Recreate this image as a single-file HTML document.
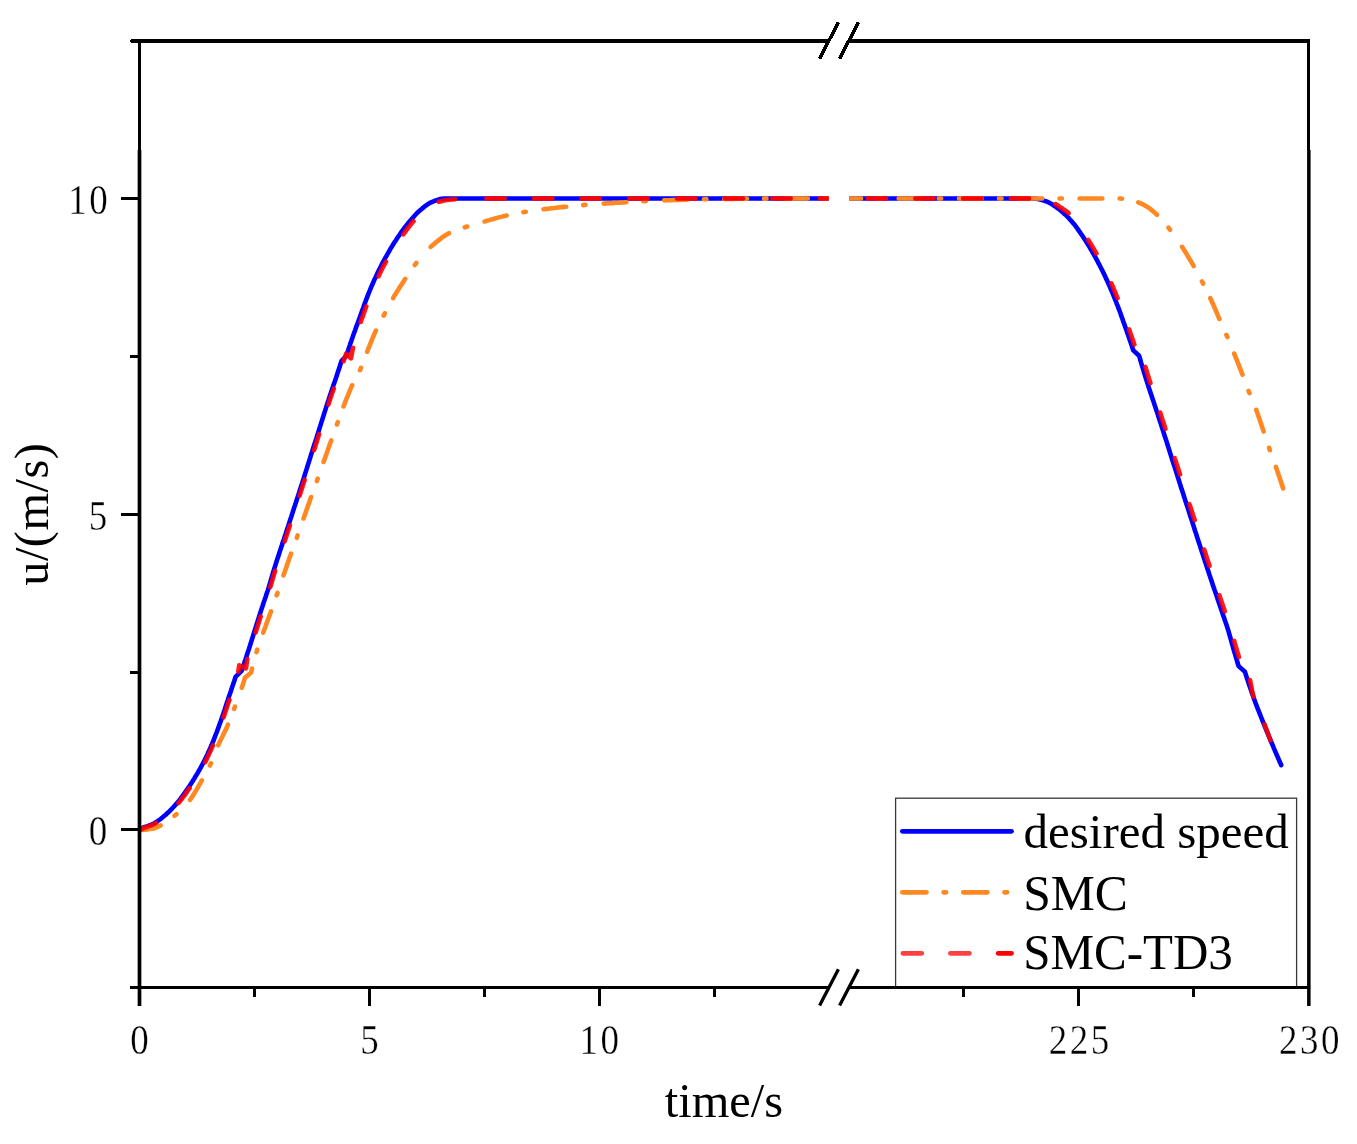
<!DOCTYPE html>
<html lang="en"><head><meta charset="utf-8"><title>Speed tracking</title>
<style>html,body{margin:0;padding:0;background:#fff}svg{display:block}</style></head>
<body>
<svg width="1357" height="1144" viewBox="0 0 1357 1144">
<defs>
<clipPath id="clipL"><rect x="139" y="30" width="689.7" height="970"/></clipPath>
<clipPath id="clipR"><rect x="849.3" y="30" width="470" height="970"/></clipPath>
<clipPath id="clipLR"><path d="M139,30H828.7V1000H139Z M849.3,30H1320V1000H849.3Z"/></clipPath>
</defs>
<rect width="1357" height="1144" fill="#fff"/>
<g fill="none" stroke-linecap="round" stroke-linejoin="round" stroke-width="4.6" clip-path="url(#clipLR)">
<path d="M139.5,829.5 L141.2,828.5 L143.0,827.7 L144.9,827.0 L146.8,826.4 L148.8,825.7 L150.6,825.0 L152.4,824.2 L154.2,823.3 L155.9,822.3 L157.6,821.2 L159.2,820.0 L160.8,818.8 L162.4,817.5 L163.9,816.2 L165.5,815.0 L166.9,813.6 L168.4,812.3 L169.8,810.9 L171.3,809.4 L172.6,808.0 L174.0,806.5 L175.3,805.0 L176.6,803.5 L177.9,802.0 L179.2,800.4 L180.4,798.8 L181.6,797.2 L182.8,795.6 L184.0,794.0 L185.1,792.4 L186.3,790.7 L187.4,789.1 L188.6,787.4 L189.7,785.8 L190.8,784.1 L191.8,782.4 L192.9,780.7 L194.0,779.0 L195.0,777.3 L196.1,775.6 L197.1,773.9 L198.1,772.2 L199.1,770.4 L200.1,768.7 L201.1,766.9 L202.0,765.2 L203.0,763.4 L203.9,761.6 L204.8,759.9 L205.7,758.1 L206.5,756.3 L207.4,754.4 L208.2,752.6 L209.1,750.8 L209.9,749.0 L210.7,747.1 L211.5,745.3 L212.2,743.5 L213.0,741.6 L213.8,739.8 L214.5,737.9 L215.2,736.0 L215.9,734.2 L216.7,732.3 L217.4,730.4 L218.1,728.6 L218.7,726.7 L219.4,724.8 L220.1,722.9 L220.8,721.0 L221.4,719.2 L222.1,717.3 L222.8,715.4 L223.4,713.5 L224.0,711.6 L224.7,709.7 L225.3,707.8 L225.9,705.9 L226.5,704.0 L227.1,702.1 L227.8,700.2 L228.4,698.3 L229.0,696.4 L229.7,694.5 L230.3,692.6 L231.0,690.7 L231.6,688.8 L232.2,686.9 L232.9,685.0 L233.5,683.1 L234.2,681.2 L234.8,679.3 L235.4,677.4 L235.7,676.7 L241.7,670.9 L242.3,669.0 L243.0,667.1 L243.6,665.2 L244.2,663.3 L244.8,661.4 L245.5,659.5 L246.1,657.6 L246.7,655.7 L247.3,653.8 L247.9,651.9 L248.6,650.0 L249.2,648.1 L249.8,646.2 L250.4,644.3 L251.0,642.4 L251.6,640.5 L252.2,638.6 L252.8,636.7 L253.4,634.7 L254.0,632.8 L254.6,630.9 L255.2,629.0 L255.8,627.1 L256.4,625.2 L257.0,623.3 L257.6,621.4 L258.2,619.5 L258.8,617.6 L259.4,615.7 L260.0,613.8 L260.6,611.9 L261.2,610.0 L261.8,608.1 L262.5,606.2 L263.1,604.3 L263.7,602.4 L264.4,600.5 L265.0,598.6 L265.7,596.7 L266.3,594.8 L266.9,592.9 L267.6,591.0 L268.2,589.1 L268.8,587.2 L269.3,585.3 L269.9,583.3 L270.5,581.4 L271.0,579.5 L271.6,577.6 L272.2,575.7 L272.7,573.7 L273.3,571.8 L273.9,569.9 L274.5,568.0 L275.1,566.1 L275.7,564.2 L276.3,562.3 L276.9,560.4 L277.5,558.5 L278.2,556.6 L278.8,554.7 L279.4,552.8 L280.0,550.9 L280.6,549.0 L281.3,547.1 L281.9,545.2 L282.5,543.3 L283.1,541.4 L283.8,539.5 L284.4,537.6 L285.0,535.7 L285.7,533.8 L286.3,531.9 L286.9,530.0 L287.5,528.1 L288.2,526.2 L288.8,524.3 L289.4,522.4 L290.0,520.5 L290.6,518.6 L291.3,516.7 L291.9,514.8 L292.5,512.9 L293.1,511.0 L293.7,509.1 L294.3,507.2 L295.0,505.3 L295.6,503.4 L296.2,501.5 L296.8,499.6 L297.4,497.7 L298.1,495.8 L298.7,493.8 L299.3,491.9 L299.9,490.0 L300.5,488.1 L301.1,486.2 L301.8,484.3 L302.4,482.4 L303.0,480.5 L303.6,478.6 L304.2,476.7 L304.8,474.8 L305.4,472.9 L306.0,471.0 L306.6,469.1 L307.2,467.2 L307.8,465.3 L308.4,463.4 L309.0,461.5 L309.6,459.6 L310.2,457.7 L310.8,455.7 L311.4,453.8 L312.0,451.9 L312.6,450.0 L313.2,448.1 L313.8,446.2 L314.4,444.3 L315.1,442.4 L315.7,440.5 L316.3,438.6 L316.9,436.7 L317.5,434.8 L318.1,432.9 L318.7,431.0 L319.3,429.0 L319.9,427.1 L320.5,425.2 L321.1,423.3 L321.7,421.4 L322.3,419.5 L322.9,417.6 L323.5,415.7 L324.1,413.8 L324.7,411.9 L325.3,410.0 L325.9,408.1 L326.5,406.2 L327.1,404.3 L327.7,402.4 L328.4,400.5 L329.0,398.5 L329.6,396.6 L330.2,394.7 L330.9,392.8 L331.5,391.0 L332.1,389.1 L332.8,387.2 L333.4,385.3 L334.1,383.4 L334.8,381.5 L335.4,379.6 L336.1,377.7 L336.7,375.8 L337.3,373.9 L337.9,372.0 L338.6,370.1 L339.2,368.2 L339.8,366.3 L340.4,364.4 L341.0,362.5 L341.5,360.9 L346.2,356.2 L346.8,354.3 L347.4,352.4 L348.1,350.5 L348.7,348.6 L349.3,346.7 L350.0,344.8 L350.6,342.9 L351.3,341.0 L351.9,339.1 L352.6,337.2 L353.2,335.4 L353.9,333.5 L354.6,331.6 L355.3,329.7 L355.9,327.8 L356.6,325.9 L357.3,324.1 L358.0,322.2 L358.7,320.3 L359.4,318.4 L360.1,316.6 L360.7,314.7 L361.4,312.8 L362.1,310.9 L362.8,309.0 L363.5,307.1 L364.1,305.3 L364.8,303.4 L365.5,301.5 L366.2,299.6 L366.9,297.8 L367.6,295.9 L368.4,294.0 L369.1,292.2 L369.9,290.3 L370.6,288.5 L371.4,286.6 L372.2,284.8 L373.0,283.0 L373.8,281.1 L374.6,279.3 L375.5,277.5 L376.3,275.7 L377.1,273.9 L378.0,272.0 L378.9,270.2 L379.8,268.5 L380.7,266.7 L381.6,264.9 L382.5,263.1 L383.4,261.4 L384.4,259.6 L385.3,257.8 L386.3,256.1 L387.3,254.3 L388.3,252.6 L389.3,250.9 L390.3,249.1 L391.3,247.4 L392.4,245.7 L393.4,244.0 L394.5,242.3 L395.6,240.7 L396.7,239.0 L397.8,237.3 L398.9,235.7 L400.1,234.0 L401.2,232.4 L402.4,230.7 L403.6,229.1 L404.8,227.5 L406.0,226.0 L407.2,224.4 L408.5,222.8 L409.8,221.3 L411.1,219.7 L412.4,218.2 L413.7,216.7 L415.0,215.2 L416.4,213.7 L417.8,212.3 L419.3,211.0 L420.8,209.7 L422.3,208.4 L423.9,207.1 L425.5,205.8 L427.1,204.7 L428.8,203.6 L430.6,202.6 L432.3,201.8 L434.2,201.0 L436.1,200.3 L438.0,199.6 L439.9,199.1 L441.9,198.8 L443.9,198.6 L445.9,198.6 L447.9,198.5 L449.4,198.5 L1032.0,198.5 L1034.0,198.6 L1036.0,198.8 L1038.0,199.1 L1039.9,199.5 L1041.9,200.0 L1043.8,200.6 L1045.7,201.2 L1047.5,201.9 L1049.3,202.8 L1051.1,203.8 L1052.8,204.8 L1054.5,206.0 L1056.2,207.1 L1057.8,208.3 L1059.4,209.5 L1060.9,210.7 L1062.4,212.0 L1063.9,213.4 L1065.4,214.7 L1066.9,216.2 L1068.3,217.6 L1069.6,219.1 L1070.9,220.5 L1072.2,222.0 L1073.5,223.6 L1074.8,225.1 L1076.0,226.7 L1077.2,228.3 L1078.3,230.0 L1079.5,231.6 L1080.6,233.3 L1081.8,234.9 L1082.9,236.6 L1084.0,238.2 L1085.1,239.9 L1086.2,241.6 L1087.2,243.3 L1088.3,245.0 L1089.3,246.7 L1090.3,248.5 L1091.3,250.2 L1092.3,251.9 L1093.3,253.7 L1094.3,255.4 L1095.3,257.2 L1096.2,258.9 L1097.2,260.7 L1098.1,262.4 L1099.0,264.2 L1100.0,266.0 L1100.9,267.8 L1101.8,269.5 L1102.7,271.3 L1103.6,273.1 L1104.4,274.9 L1105.3,276.7 L1106.1,278.6 L1107.0,280.4 L1107.8,282.2 L1108.6,284.0 L1109.4,285.8 L1110.2,287.7 L1111.0,289.5 L1111.8,291.3 L1112.6,293.2 L1113.3,295.0 L1114.1,296.9 L1114.8,298.8 L1115.6,300.6 L1116.3,302.5 L1117.0,304.3 L1117.8,306.2 L1118.5,308.1 L1119.2,309.9 L1119.9,311.8 L1120.6,313.7 L1121.2,315.6 L1121.9,317.5 L1122.6,319.4 L1123.2,321.2 L1123.9,323.1 L1124.6,325.0 L1125.2,326.9 L1125.9,328.8 L1126.6,330.7 L1127.2,332.6 L1127.9,334.4 L1128.5,336.3 L1129.2,338.2 L1129.8,340.1 L1130.5,342.0 L1131.1,343.9 L1131.8,345.8 L1132.4,347.7 L1133.0,349.6 L1133.3,350.4 L1139.1,355.7 L1139.7,357.6 L1140.2,359.5 L1140.8,361.5 L1141.3,363.4 L1141.9,365.3 L1142.5,367.2 L1143.1,369.1 L1143.6,371.0 L1144.2,373.0 L1144.8,374.9 L1145.4,376.8 L1146.0,378.7 L1146.6,380.6 L1147.2,382.5 L1147.8,384.4 L1148.4,386.3 L1149.0,388.2 L1149.7,390.1 L1150.3,392.0 L1150.9,393.9 L1151.6,395.8 L1152.2,397.7 L1152.8,399.6 L1153.5,401.5 L1154.1,403.4 L1154.7,405.3 L1155.4,407.2 L1156.0,409.1 L1156.6,411.0 L1157.3,412.9 L1157.9,414.8 L1158.5,416.7 L1159.1,418.6 L1159.7,420.5 L1160.4,422.4 L1161.0,424.3 L1161.6,426.2 L1162.2,428.1 L1162.8,430.0 L1163.4,431.9 L1164.0,433.8 L1164.6,435.7 L1165.2,437.6 L1165.9,439.5 L1166.5,441.4 L1167.1,443.3 L1167.7,445.2 L1168.3,447.1 L1168.9,449.1 L1169.5,451.0 L1170.1,452.9 L1170.7,454.8 L1171.3,456.7 L1171.9,458.6 L1172.5,460.5 L1173.1,462.4 L1173.7,464.3 L1174.4,466.2 L1175.0,468.1 L1175.6,470.0 L1176.2,471.9 L1176.8,473.8 L1177.4,475.7 L1178.0,477.6 L1178.6,479.5 L1179.2,481.5 L1179.8,483.4 L1180.4,485.3 L1181.0,487.2 L1181.6,489.1 L1182.3,491.0 L1182.9,492.9 L1183.5,494.8 L1184.1,496.7 L1184.7,498.6 L1185.3,500.5 L1185.9,502.4 L1186.5,504.3 L1187.2,506.2 L1187.8,508.1 L1188.4,510.0 L1189.0,511.9 L1189.6,513.8 L1190.2,515.7 L1190.8,517.6 L1191.5,519.5 L1192.1,521.4 L1192.7,523.3 L1193.3,525.2 L1193.9,527.1 L1194.5,529.0 L1195.1,531.0 L1195.8,532.9 L1196.4,534.8 L1197.0,536.7 L1197.6,538.6 L1198.2,540.5 L1198.8,542.4 L1199.5,544.3 L1200.1,546.2 L1200.7,548.1 L1201.3,550.0 L1201.9,551.9 L1202.6,553.8 L1203.2,555.7 L1203.8,557.6 L1204.4,559.5 L1205.0,561.4 L1205.7,563.3 L1206.3,565.2 L1206.9,567.1 L1207.5,569.0 L1208.2,570.9 L1208.8,572.8 L1209.4,574.7 L1210.1,576.6 L1210.7,578.5 L1211.3,580.4 L1212.0,582.3 L1212.6,584.2 L1213.2,586.1 L1213.9,588.0 L1214.5,589.8 L1215.2,591.7 L1215.8,593.6 L1216.5,595.5 L1217.1,597.4 L1217.7,599.3 L1218.4,601.2 L1219.0,603.1 L1219.7,605.0 L1220.3,606.9 L1221.0,608.8 L1221.6,610.7 L1222.3,612.6 L1222.9,614.5 L1223.5,616.4 L1224.2,618.2 L1224.8,620.1 L1225.5,622.0 L1226.1,623.9 L1226.8,625.8 L1227.4,627.7 L1228.0,629.6 L1228.6,631.5 L1229.1,633.5 L1229.7,635.4 L1230.2,637.3 L1230.8,639.2 L1231.3,641.2 L1231.8,643.1 L1232.4,645.0 L1232.9,646.9 L1233.5,648.9 L1234.0,650.8 L1234.6,652.7 L1235.2,654.6 L1235.7,656.5 L1236.3,658.5 L1236.9,660.4 L1237.4,662.3 L1238.0,664.2 L1238.6,666.1 L1244.9,671.7 L1245.5,673.6 L1246.1,675.5 L1246.7,677.4 L1247.3,679.3 L1248.0,681.2 L1248.6,683.1 L1249.2,685.0 L1249.9,686.9 L1250.5,688.8 L1251.2,690.7 L1251.8,692.6 L1252.5,694.5 L1253.2,696.4 L1253.8,698.2 L1254.5,700.1 L1255.2,702.0 L1255.9,703.9 L1256.6,705.7 L1257.3,707.6 L1258.1,709.5 L1258.8,711.3 L1259.5,713.2 L1260.3,715.0 L1261.0,716.9 L1261.8,718.8 L1262.5,720.6 L1263.2,722.5 L1264.0,724.3 L1264.7,726.2 L1265.5,728.0 L1266.2,729.9 L1267.0,731.7 L1267.8,733.6 L1268.5,735.4 L1269.3,737.3 L1270.1,739.1 L1270.8,741.0 L1271.6,742.8 L1272.4,744.7 L1273.2,746.5 L1273.9,748.3 L1274.7,750.2 L1275.5,752.0 L1276.3,753.9 L1277.1,755.7 L1277.9,757.5 L1278.7,759.4 L1279.5,761.2 L1280.3,763.0 L1281.1,764.9 L1281.2,765.1" stroke="#0000ff"/>
<path d="M139.5,830.0 L141.6,830.0 L143.6,829.8 L145.6,829.7 L147.6,829.4 L149.5,829.1 L151.5,828.8 L153.4,828.5 L155.3,827.9 L157.2,827.2 L159.0,826.3 L160.6,825.4 M174.5,815.8 L175.5,815.0 L176.4,814.2 M190.0,799.9 L190.6,799.1 L191.7,797.4 L192.8,795.8 L193.9,794.1 L194.9,792.4 L196.0,790.6 L197.0,788.9 L198.0,787.2 L199.0,785.4 L200.0,783.7 L201.0,781.9 L201.9,780.4 M209.9,765.5 L210.5,764.3 L211.0,763.3 M218.2,745.3 L218.8,743.9 L219.6,742.1 L220.5,740.3 L221.4,738.5 L222.3,736.7 L223.1,734.9 L224.0,733.1 L224.9,731.3 L225.8,729.5 L226.6,727.7 L227.4,725.9 L227.9,724.7 M234.1,708.9 L234.7,707.3 L234.9,706.5 M241.8,687.8 L242.1,686.6 L242.8,684.7 L243.4,682.8 L244.0,680.9 L244.6,678.9 L244.9,677.8 L251.2,672.5 L251.6,670.5 L252.1,668.6 L252.1,668.5 M256.5,652.1 L256.8,651.2 L257.2,649.7 M263.2,632.7 L263.3,632.3 L264.0,630.4 L264.7,628.6 L265.4,626.7 L266.1,624.8 L266.7,622.9 L267.4,621.1 L268.1,619.2 L268.8,617.3 L269.5,615.4 L270.2,613.5 L270.9,611.7 L271.0,611.3 M276.6,595.3 L276.9,594.7 L277.5,592.9 M283.5,575.3 L284.0,573.9 L284.7,572.0 L285.3,570.1 L286.0,568.2 L286.6,566.3 L287.3,564.4 L287.9,562.5 L288.6,560.6 L289.2,558.8 L289.9,556.9 L290.6,555.0 L291.0,553.7 M296.8,537.8 L297.4,536.2 L297.6,535.4 M303.6,518.5 L304.0,517.3 L304.6,515.4 L305.3,513.5 L306.0,511.6 L306.6,509.7 L307.3,507.9 L307.9,506.0 L308.6,504.1 L309.3,502.2 L309.9,500.3 L310.6,498.4 L311.1,497.0 M316.9,481.1 L317.4,479.6 L317.7,478.7 M323.6,461.9 L324.0,460.8 L324.7,458.9 L325.4,457.0 L326.0,455.1 L326.7,453.2 L327.4,451.3 L328.0,449.4 L328.7,447.5 L329.4,445.7 L330.0,443.8 L330.7,441.9 L331.2,440.4 M337.0,424.5 L337.5,423.1 L337.8,422.1 M343.6,406.4 L343.7,406.2 L344.4,404.3 L345.1,402.4 L345.8,400.5 L346.5,398.7 L347.3,396.8 L348.0,395.0 L348.8,393.1 L349.5,391.3 L350.3,389.4 L351.1,387.6 L351.9,385.8 L352.2,385.3 M360.0,370.2 L360.2,369.8 L361.0,368.0 L361.0,367.9 M367.2,351.7 L367.4,351.1 L368.2,349.3 L368.9,347.4 L369.6,345.6 L370.4,343.7 L371.1,341.8 L371.9,340.0 L372.6,338.1 L373.4,336.3 L374.2,334.4 L375.0,332.6 L375.8,330.8 L375.9,330.6 M383.6,315.5 L384.0,314.8 L384.8,313.3 M393.1,298.2 L393.6,297.2 L394.6,295.5 L395.7,293.8 L396.7,292.1 L397.8,290.4 L398.9,288.7 L399.9,287.0 L401.0,285.4 L402.1,283.7 L403.2,282.0 L404.3,280.3 L405.2,278.9 M414.8,265.0 L415.7,263.9 L416.3,263.0 M430.7,246.9 L431.7,246.0 L433.2,244.7 L434.7,243.4 L436.2,242.1 L437.8,240.9 L439.4,239.6 L441.0,238.4 L442.6,237.2 L444.3,236.0 L445.9,234.9 L447.6,233.9 L449.0,233.2 M464.8,227.3 L466.3,226.8 L467.2,226.5 M484.6,221.4 L485.5,221.2 L487.4,220.6 L489.3,220.1 L491.2,219.5 L493.2,219.0 L495.1,218.4 L497.0,217.9 L498.9,217.4 L500.9,216.9 L502.8,216.4 L504.8,215.9 L506.7,215.5 M523.3,212.2 L524.4,212.0 L525.8,211.8 M543.5,209.2 L544.2,209.1 L546.2,208.9 L548.1,208.7 L550.1,208.4 L552.1,208.2 L554.1,208.0 L556.1,207.7 L558.1,207.5 L560.1,207.3 L562.0,207.1 L564.0,206.9 L566.0,206.7 L566.2,206.7 M583.1,205.1 L584.0,205.0 L585.5,204.9 M603.7,203.6 L603.9,203.6 L605.9,203.4 L607.9,203.3 L609.9,203.2 L611.9,203.1 L613.9,202.9 L615.9,202.8 L617.9,202.7 L619.9,202.6 L621.9,202.5 L623.9,202.4 L625.9,202.2 L626.4,202.2 M643.3,201.3 L643.8,201.3 L645.8,201.2 L645.8,201.2 M664.2,200.4 L665.8,200.3 L667.8,200.2 L669.8,200.2 L671.8,200.1 L673.8,200.0 L675.8,200.0 L677.8,199.9 L679.8,199.9 L681.8,199.8 L683.8,199.7 L685.8,199.7 L687.0,199.7 M703.9,199.3 L705.8,199.3 L706.4,199.3 M724.2,199.0 L725.8,199.0 L727.8,198.9 L729.8,198.9 L731.8,198.9 L733.8,198.9 L735.8,198.8 L737.8,198.8 L739.8,198.8 L741.8,198.8 L743.8,198.8 L745.8,198.7 L747.0,198.7 M764.0,198.6 L765.8,198.6 L766.5,198.6 M785.0,198.5 L785.8,198.5 L787.8,198.5 L789.8,198.5 L791.8,198.5 L793.8,198.5 L795.8,198.5 L797.8,198.5 L799.8,198.5 L801.8,198.5 L803.8,198.5 L805.8,198.5 L807.8,198.5 L807.8,198.5 M824.8,198.5 L825.8,198.5 L827.2,198.5" stroke="#ff8822"/>
<path d="M838.4,198.5 L861.1,198.5 M878.5,198.5 L881.0,198.5 M898.7,198.5 L921.4,198.5 M938.8,198.5 L941.2,198.5 M959.0,198.5 L981.7,198.5 M999.0,198.5 L1001.5,198.5 M1019.4,198.5 L1042.1,198.5 M1059.5,198.5 L1062.0,198.5 M1079.6,198.5 L1102.3,198.5 M1119.6,198.5 L1120.0,198.5 L1122.0,198.6 L1122.1,198.6 M1138.2,202.3 L1139.4,202.8 L1141.3,203.6 L1143.1,204.5 L1144.9,205.5 L1146.6,206.5 L1148.3,207.5 L1149.9,208.7 L1151.5,209.9 L1153.0,211.2 L1154.5,212.5 L1156.0,213.9 L1157.0,214.8 M1168.5,227.7 L1169.3,228.8 L1170.1,229.7 M1182.0,246.7 L1182.0,246.8 L1183.1,248.4 L1184.1,250.1 L1185.2,251.8 L1186.3,253.5 L1187.3,255.2 L1188.3,257.0 L1189.3,258.7 L1190.4,260.4 L1191.4,262.1 L1192.4,263.9 L1193.4,265.6 L1193.7,266.1 M1201.9,281.4 L1201.9,281.4 L1202.9,283.2 L1203.1,283.6 M1210.3,298.2 L1210.8,299.3 L1211.7,301.2 L1212.5,303.0 L1213.3,304.8 L1214.1,306.6 L1214.9,308.5 L1215.7,310.3 L1216.5,312.2 L1217.3,314.0 L1218.0,315.8 L1218.8,317.7 L1219.4,319.0 M1226.4,334.8 L1226.9,336.0 L1227.4,337.1 M1234.2,353.5 L1234.5,354.5 L1235.3,356.3 L1236.0,358.2 L1236.8,360.0 L1237.5,361.9 L1238.2,363.7 L1239.0,365.6 L1239.7,367.5 L1240.4,369.3 L1241.2,371.2 L1241.9,373.1 L1242.5,374.6 M1248.6,390.9 L1248.9,391.8 L1249.5,393.2 M1256.2,409.9 L1256.4,410.3 L1257.1,412.2 L1257.8,414.1 L1258.4,416.0 L1259.1,417.9 L1259.7,419.8 L1260.3,421.7 L1261.0,423.6 L1261.6,425.4 L1262.2,427.3 L1262.9,429.2 L1263.5,431.1 L1263.6,431.4 M1269.1,447.8 L1269.2,448.2 L1269.9,450.1 L1269.9,450.2 M1275.9,466.9 L1275.9,467.1 L1276.6,468.9 L1277.2,470.8 L1277.9,472.7 L1278.5,474.6 L1279.2,476.5 L1279.8,478.4 L1280.5,480.3 L1281.1,482.2 L1281.7,484.1 L1282.3,486.0 L1283.0,487.9 L1283.1,488.4" stroke="#ff8822"/>
<path d="M141.0,829.5 L142.7,828.5 L144.5,827.7 L146.4,827.0 L148.3,826.4 L150.3,825.7 L152.1,825.0 L153.9,824.2 L155.7,823.3 L156.1,823.0 M178.5,803.0 L179.4,802.0 L180.7,800.4 L181.9,798.8 L183.1,797.2 L184.3,795.6 L185.5,794.0 L186.6,792.4 L187.8,790.7 L188.9,789.1 L189.6,788.1 M205.1,762.2 L205.4,761.6 L206.3,759.9 L207.2,758.1 L208.0,756.3 L208.9,754.4 L209.7,752.6 L210.6,750.8 L211.4,749.0 L212.2,747.1 L212.9,745.5 M223.6,717.3 L224.2,715.4 L224.9,713.5 L225.5,711.6 L226.1,709.7 L226.8,707.8 L227.4,705.9 L228.0,704.0 L228.6,702.1 L229.3,700.2 L229.4,699.7 M238.4,670.9 L238.6,669.7 L238.9,667.7 L239.2,665.7 L239.2,665.3 L246.0,668.3 L246.7,663.0 M255.6,632.5 L255.7,632.3 L256.3,630.4 L256.9,628.5 L257.5,626.6 L258.1,624.7 L258.7,622.7 L259.3,620.8 L259.9,618.9 L260.5,617.0 L260.7,616.4 M270.3,586.9 L270.4,586.6 L271.0,584.7 L271.6,582.8 L272.1,580.9 L272.7,578.9 L273.3,577.0 L273.8,575.1 L274.4,573.2 L275.0,571.3 L275.1,570.8 M284.7,541.3 L284.8,540.8 L285.5,538.9 L286.1,537.0 L286.7,535.1 L287.3,533.2 L288.0,531.3 L288.6,529.4 L289.2,527.5 L289.8,525.6 L289.9,525.3 M299.5,495.8 L299.7,495.2 L300.4,493.3 L301.0,491.4 L301.6,489.5 L302.2,487.6 L302.8,485.7 L303.4,483.8 L304.0,481.9 L304.7,480.0 L304.7,479.8 M314.1,450.2 L314.3,449.5 L314.9,447.6 L315.5,445.6 L316.1,443.7 L316.7,441.8 L317.3,439.9 L317.9,438.0 L318.5,436.1 L319.1,434.2 M328.4,404.6 L328.7,403.6 L329.3,401.7 L329.9,399.8 L330.5,397.9 L331.2,396.1 L331.8,394.2 L332.5,392.3 L333.2,390.4 L333.8,388.7 M344.2,359.4 L344.5,358.4 L345.2,356.5 L345.8,354.6 L346.2,353.6 L350.9,358.3 L351.7,354.4 M360.7,322.0 L361.0,321.0 L361.7,319.1 L362.4,317.3 L363.1,315.4 L363.8,313.5 L364.4,311.6 L365.1,309.7 L365.8,307.8 L366.3,306.4 M378.5,276.4 L378.5,276.3 L379.4,274.5 L380.2,272.7 L381.1,270.9 L382.0,269.1 L382.9,267.3 L383.8,265.6 L384.8,263.8 L385.7,262.1 L386.0,261.6 M403.3,234.4 L404.0,233.4 L405.2,231.8 L406.4,230.1 L407.6,228.5 L408.8,227.0 L410.1,225.4 L411.3,223.8 L412.6,222.3 L413.5,221.3 M438.7,201.8 L439.1,201.7 L441.1,201.2 L443.0,200.7 L445.0,200.3 L447.0,200.0 L449.0,199.8 L451.0,199.5 L453.0,199.4 L455.0,199.2 L455.1,199.2 M238.3,671.7 L238.3,671.6 L238.6,669.7 L238.9,667.7 L239.2,665.7 L239.2,665.3 L246.0,668.3 L247.3,659.0 M343.6,361.2 L343.9,360.3 L344.5,358.4 L345.2,356.5 L345.8,354.6 L346.2,353.6 L350.9,358.3 L353.0,347.8" stroke="#ff0000" stroke-opacity=".9"/>
<path d="M486.4,198.5 L504.7,198.5 M534.1,198.5 L552.4,198.5 M581.7,198.5 L600.0,198.5 M629.4,198.5 L647.7,198.5 M677.1,198.5 L695.4,198.5 M724.8,198.5 L743.0,198.5 M772.4,198.5 L790.7,198.5 M820.1,198.5 L838.4,198.5 M867.8,198.5 L886.1,198.5 M915.4,198.5 L933.7,198.5 M963.1,198.5 L981.4,198.5 M1010.8,198.5 L1029.1,198.5" stroke="#ff0000"/>
<path d="M1055.5,204.1 L1056.8,204.8 L1058.5,205.9 L1060.2,207.1 L1061.9,208.2 L1063.5,209.3 L1065.2,210.5 L1066.8,211.7 L1068.4,212.9 L1068.6,213.2 M1088.2,239.8 L1088.4,240.1 L1089.4,241.8 L1090.5,243.5 L1091.5,245.2 L1092.6,247.0 L1093.6,248.7 L1094.6,250.4 L1095.6,252.1 L1096.4,253.5 M1111.3,283.3 L1111.8,284.3 L1112.6,286.1 L1113.4,287.9 L1114.1,289.8 L1114.9,291.6 L1115.7,293.5 L1116.4,295.3 L1117.2,297.2 L1117.6,298.1 M1129.1,329.3 L1129.7,331.0 L1130.3,332.8 L1131.0,334.7 L1131.6,336.6 L1132.3,338.5 L1132.9,340.4 L1133.6,342.3 L1134.2,344.2 L1134.3,344.4 M1145.4,366.9 L1145.5,367.2 L1146.1,369.1 L1146.6,371.0 L1147.2,373.0 L1147.8,374.9 L1148.4,376.8 L1149.0,378.7 L1149.6,380.6 L1150.2,382.5 L1150.4,383.1 M1160.2,412.5 L1160.3,412.9 L1160.9,414.8 L1161.5,416.7 L1162.1,418.6 L1162.7,420.5 L1163.4,422.4 L1164.0,424.3 L1164.6,426.2 L1165.2,428.1 L1165.4,428.7 M1174.8,458.2 L1174.9,458.6 L1175.5,460.5 L1176.1,462.4 L1176.7,464.3 L1177.4,466.2 L1178.0,468.1 L1178.6,470.0 L1179.2,471.9 L1179.8,473.8 L1180.0,474.4 M1189.4,504.0 L1189.5,504.3 L1190.2,506.2 L1190.8,508.1 L1191.4,510.0 L1192.0,511.9 L1192.6,513.8 L1193.2,515.7 L1193.8,517.6 L1194.5,519.5 L1194.7,520.1 M1204.2,549.6 L1204.3,550.0 L1204.9,551.9 L1205.6,553.8 L1206.2,555.7 L1206.8,557.6 L1207.4,559.5 L1208.0,561.4 L1208.7,563.3 L1209.3,565.2 L1209.5,565.8 M1219.3,595.2 L1219.5,595.5 L1220.1,597.4 L1220.7,599.3 L1221.4,601.2 L1222.0,603.1 L1222.7,605.0 L1223.3,606.9 L1224.0,608.8 L1224.6,610.7 L1224.8,611.3 M1234.2,640.8 L1234.3,641.2 L1234.8,643.1 L1235.4,645.0 L1235.9,646.9 L1236.5,648.9 L1237.0,650.8 L1237.6,652.7 L1238.2,654.6 L1238.7,656.5 L1238.9,657.1 M1250.0,680.1 L1250.3,681.4 L1250.7,683.4 L1251.1,685.4 L1251.5,687.3 L1251.8,689.3 L1252.2,691.3 L1252.7,693.2 L1253.1,695.2 L1253.5,696.7 M1264.5,724.3 L1264.7,724.9 L1265.4,726.8 L1266.1,728.7 L1266.8,730.5 L1267.5,732.4 L1268.2,734.3 L1268.9,736.2 L1269.6,738.0 L1270.3,739.9 L1270.4,740.2" stroke="#ff0000" stroke-opacity=".9"/>
</g>
<rect x="895.6" y="798.2" width="401" height="190" fill="#fff" stroke="#383838" stroke-width="1.3"/>
<g fill="none" stroke-linecap="round" stroke-width="4.8">
<path d="M902.4,831.3 H1011.5" stroke="#0000ff"/>
<path d="M902.4,892.3 H1011.5" stroke="#ff8822" stroke-dasharray="24 17.2 2.5 17.2"/>
<path d="M902.9,953.3 H921.8 M950.4,953.3 H969.4" stroke="#ff4040"/>
<path d="M998.2,953.3 H1011.5" stroke="#ff0000"/>
</g>
<g font-family="'Liberation Serif', serif" font-size="49" fill="#000">
<text x="1023.5" y="847.5">desired speed</text>
<text transform="translate(1023.2,909.5) scale(1.012,1.04)">SMC</text>
<text transform="translate(1023.2,969.4) scale(1.0,1.04)">SMC-TD3</text>
</g>
<g stroke="#000" fill="none" shape-rendering="crispEdges">
<path d="M131,41 H828.5 M850,41 H1310" stroke-width="4"/>
<path d="M130,41 H131.5" stroke-width="2"/>
<path d="M130,987.5 H828.5 M850,987.5 H1310" stroke-width="3"/>
<path d="M139.5,41 V150 M1308.5,41 V150" stroke-width="3"/>
<path d="M121,198.5 H139 M121,514.5 H139 M121,829.5 H139" stroke-width="3"/>
<path d="M130,356.5 H139 M130,672.5 H139" stroke-width="3"/>
<path d="M369.5,988 V1006 M599.5,988 V1006 M1078.5,988 V1006" stroke-width="3"/>
<path d="M254.5,988 V997 M484.5,988 V997 M714.5,988 V997 M963.5,988 V997 M1193.5,988 V997" stroke-width="3"/>
</g>
<path d="M139.5,150 V1006" stroke="#000" stroke-width="3.7" fill="none"/>
<path d="M1308.85,150 V1006" stroke="#000" stroke-width="3.5" fill="none"/>
<g stroke="#000" fill="none">
<path d="M819.6,58.6 L838.5,22.2 M839.6,58.6 L858.5,22.2" stroke-width="3.5" shape-rendering="crispEdges"/>
<path d="M819.6,1005.6 L838.4,969.3 M839.6,1005.6 L858.4,969.3" stroke-width="3.3"/>
</g>
<g font-family="'Liberation Serif', serif" font-size="42" fill="#000" stroke="#fff" stroke-width=".35">
<text transform="translate(110.4,214.4) scale(0.88,1)" text-anchor="end" letter-spacing="2.9">10</text>
<text transform="translate(109.9,530.3) scale(0.88,1)" text-anchor="end" letter-spacing="2.9">5</text>
<text transform="translate(109.9,845.4) scale(0.88,1)" text-anchor="end" letter-spacing="2.9">0</text>
<text transform="translate(140.8,1053.6) scale(0.88,1)" text-anchor="middle" letter-spacing="2.9">0</text>
<text transform="translate(370.8,1053.6) scale(0.88,1)" text-anchor="middle" letter-spacing="2.9">5</text>
<text transform="translate(600.4,1053.6) scale(0.88,1)" text-anchor="middle" letter-spacing="2.9">10</text>
<text transform="translate(1080.2,1053.6) scale(0.88,1)" text-anchor="middle" letter-spacing="2.9">225</text>
<text transform="translate(1310.5,1053.6) scale(0.88,1)" text-anchor="middle" letter-spacing="2.9">230</text>
</g>
<g font-family="'Liberation Serif', serif" font-size="48.4" fill="#000">
<text x="664.8" y="1117">time/s</text>
<text transform="translate(48.3,585.7) rotate(-90)" letter-spacing=".45">u/(m/s)</text>
</g>
</svg>
</body></html>
